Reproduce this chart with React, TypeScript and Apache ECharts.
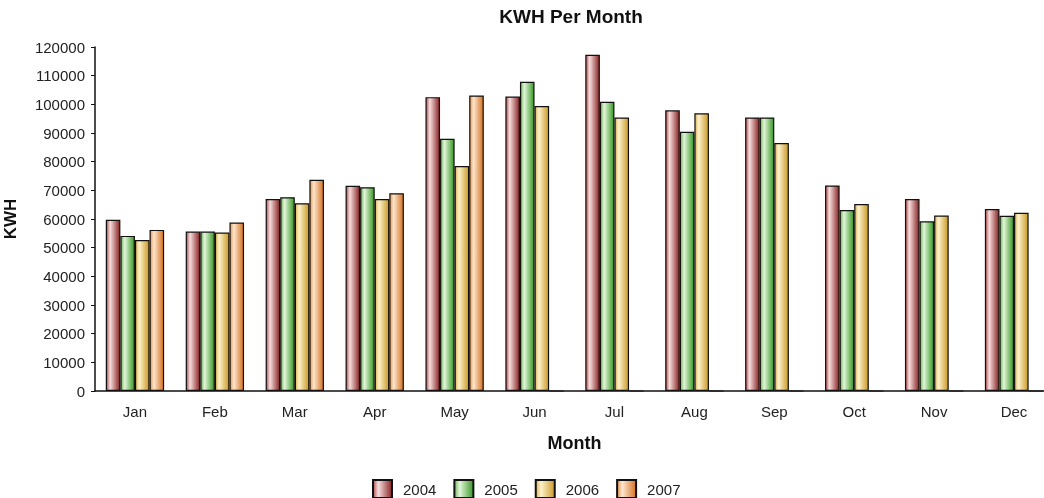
import React, { useEffect, useRef } from "react";
import * as echarts from "echarts";

const months = ["Jan", "Feb", "Mar", "Apr", "May", "Jun", "Jul", "Aug", "Sep", "Oct", "Nov", "Dec"];
const years = ["2004", "2005", "2006", "2007"];
const kwh2004 = [59700, 55600, 67000, 71600, 102500, 102700, 117300, 97900, 95400, 71700, 67000, 63500];
const kwh2005 = [54100, 55600, 67600, 71100, 88000, 107900, 100900, 90400, 95400, 63100, 59200, 61100];
const kwh2006 = [52700, 55300, 65500, 67000, 78500, 99400, 95400, 96900, 86500, 65200, 61200, 62200];
const kwh2007 = [56200, 58800, 73700, 69000, 103100, 0, 0, 0, 0, 0, 0, 0];
const yTicks = { min: 0, max: 120000, interval: 10000 };

const palettes = [
  ["#b04f4f", "#f6dede", "#8a2424"],
  ["#6fb853", "#e2f6da", "#3a9826"],
  ["#e0b44e", "#fcf2cc", "#cc9a28"],
  ["#e5964f", "#fde6cf", "#d57220"],
];

function grad(p: string[]) {
  return new echarts.graphic.LinearGradient(0, 0, 1, 0, [
    { offset: 0, color: p[0] },
    { offset: 0.28, color: p[1] },
    { offset: 1, color: p[2] },
  ]);
}

export default function App() {
  const ref = useRef<HTMLDivElement>(null);
  useEffect(() => {
    document.body.style.margin = "0";
    const chart = echarts.init(ref.current!, null, { renderer: "svg" });
    const font = "'Liberation Sans', Arial, sans-serif";
    const data = [kwh2004, kwh2005, kwh2006, kwh2007];
    chart.setOption({
      animation: false,
      textStyle: { fontFamily: font },
      title: {
        text: "KWH Per Month",
        left: 566,
        textAlign: "center",
        top: 2,
        textStyle: { fontSize: 19, fontWeight: "bold", color: "#111", fontFamily: font },
      },
      legend: {
        left: 367,
        top: 474,
        itemWidth: 19,
        itemHeight: 18,
        itemGap: 17,
        icon: "rect",
        textStyle: { fontSize: 15, color: "#222", fontFamily: font, padding: [0, 0, 0, 6] },
        data: years,
      },
      grid: { left: 95, top: 47, bottom: 107, right: -10, containLabel: false, outerBoundsMode: "none" },
      xAxis: {
        type: "category",
        data: months,
        name: "Month",
        nameLocation: "middle",
        nameGap: 43,
        nameTextStyle: { fontSize: 18, fontWeight: "bold", color: "#111", fontFamily: font },
        axisLine: { lineStyle: { color: "#111", width: 1.5 } },
        axisTick: { alignWithLabel: true, length: 4, lineStyle: { color: "#111" } },
        axisLabel: { fontSize: 15, color: "#222", margin: 13, fontFamily: font },
      },
      yAxis: {
        type: "value",
        min: yTicks.min,
        max: yTicks.max,
        interval: yTicks.interval,
        name: "KWH",
        nameLocation: "middle",
        nameGap: 76,
        nameRotate: 90,
        nameTextStyle: { fontSize: 17, fontWeight: "bold", color: "#111", fontFamily: font },
        axisLine: { show: true, lineStyle: { color: "#111", width: 1.5 } },
        axisTick: { show: true, length: 4, lineStyle: { color: "#111" } },
        splitLine: { show: false },
        axisLabel: { fontSize: 15, color: "#222", margin: 10, fontFamily: font, formatter: (v: number) => String(v) },
      },
      series: years.map((y, i) => ({
        name: y,
        type: "bar",
        data: data[i],
        barGap: "0%",
        barCategoryGap: "27%",
        itemStyle: { color: grad(palettes[i]), borderColor: "#111", borderWidth: 1.2 },
      })),
    });
    return () => chart.dispose();
  }, []);
  return <div ref={ref} style={{ position: "fixed", left: 0, top: 0, width: 1044, height: 498 }} />;
}
